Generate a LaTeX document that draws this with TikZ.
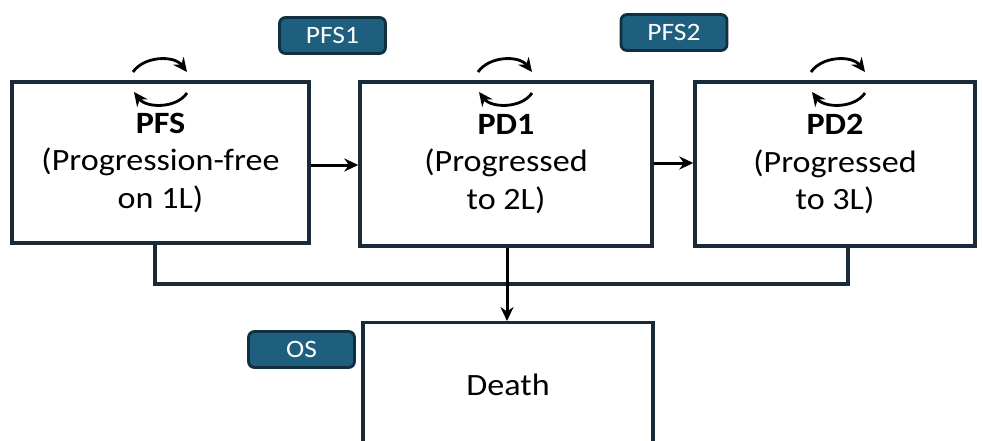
\documentclass[tikz,border=0pt]{standalone}
\usepackage{fontspec}
\setmainfont{Carlito}[FakeStretch=1.1]
\usetikzlibrary{arrows.meta,calc}
\definecolor{edge}{HTML}{1B2A38}
\definecolor{tagfill}{HTML}{1E5E7E}
\definecolor{tagedge}{HTML}{10303F}
\begin{document}
\begin{tikzpicture}[x=1pt,y=-1pt,
  state/.style={draw=edge,line width=3.4pt,fill=white,inner sep=0pt,align=center,font=\fontsize{31}{37.5}\selectfont},
  tag/.style={draw=tagedge,line width=2.8pt,fill=tagfill,rounded corners=6pt,text=white,font=\fontsize{25}{28}\selectfont,minimum width=106pt,minimum height=36pt,inner sep=0pt},
  conn/.style={draw=edge,line width=3.2pt},
  arr/.style={draw=black,line width=3pt,-{Stealth[length=14pt,width=13pt]}},
  cyc/.style={draw=black,line width=2.8pt,-{Stealth[length=14pt,width=13pt]}}]
\clip (0,0) rectangle (982,441);
\fill[white] (0,0) rectangle (982,441);
% boxes
\node[state,minimum width=297pt,minimum height=161pt] (pfs) at (160.5,162.5) {\textbf{PFS}\\(Progression-free\\on 1L)};
\node[state,minimum width=292pt,minimum height=164pt] (pd1) at (506,164) {\textbf{PD1}\\(Progressed\\to 2L)};
\node[state,minimum width=280pt,minimum height=164pt] (pd2) at (835,164) {\textbf{PD2}\\(Progressed\\to 3L)};
\node[state,minimum width=290pt,minimum height=150pt,anchor=north] (death) at (508,321) {};
\node[font=\fontsize{31}{37}\selectfont] (deathtxt) at (508,385) {Death};
% tags
\node[tag] (t1) at (332.5,35.5) {PFS1};
\node[tag] (t2) at (674,32.5) {PFS2};
\node[tag] (t3) at (301.5,349.5) {OS};
% horizontal arrows
\draw[arr] (pfs.east |- 0,165) coordinate (a1) -- (pd1.west |- a1);
\draw[arr] (pd1.east |- 0,163) coordinate (a2) -- (pd2.west |- a2);
% bottom connector
\coordinate (b1) at (155,0);
\coordinate (b2) at (848,0);
\draw[conn] (pfs.south -| b1) -- (b1 |- 0,284) -- (b2 |- 0,284) -- (pd2.south -| b2);
\coordinate (b3) at (507,0);
\draw[arr] (pd1.south -| b3) -- (death.north -| b3);
% cycle arrows
\foreach \b/\cx in {pfs/160, pd1/505, pd2/838}{
  \begin{scope}[shift={(\cx,82)}]
    \draw[cyc] (-27,-10) .. controls (-16,-26) and (14,-27) .. (27,-10);
    \draw[cyc] (27,11) .. controls (16,27) and (-14,26) .. (-26,10);
  \end{scope}
}
\end{tikzpicture}
\end{document}
